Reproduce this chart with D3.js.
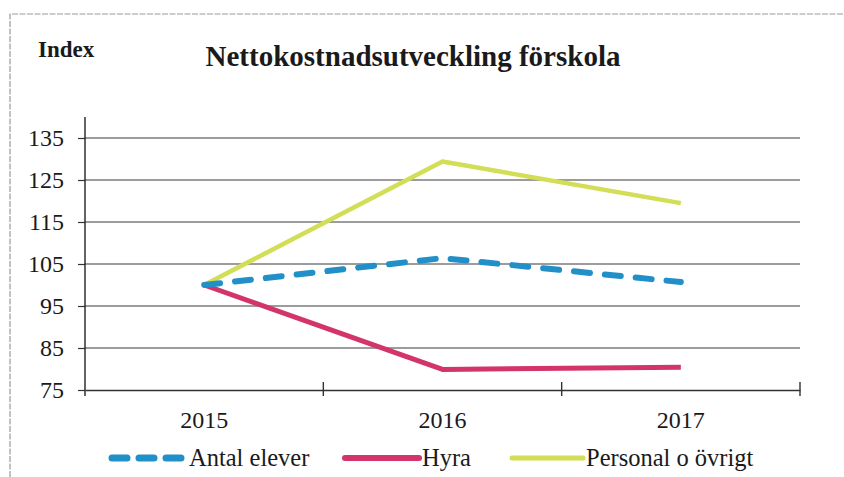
<!DOCTYPE html>
<html><head><meta charset="utf-8">
<script src="https://cdn.jsdelivr.net/npm/d3@7"></script>
<style>html,body{margin:0;padding:0;background:#fff;}svg{display:block;}
svg text{font-family:"Liberation Serif","Times New Roman",serif !important;}</style>
</head><body>
<svg id="c" width="844" height="477"></svg>
<script>
const years = ["2015", "2016", "2017"];
const antalElever = [100, 106.4, 100.7];
const hyra = [100, 79.9, 80.4];
const personal = [100, 129.4, 119.5];
const yTicks = [75, 85, 95, 105, 115, 125, 135];
const seriesNames = ["Antal elever", "Hyra", "Personal o övrigt"];
const titleText = "Nettokostnadsutveckling förskola";
const yLabel = "Index";

(function () {
const svg = d3.select("#c");
const pLeft = 85, pRight = 800, pTop = 117, pBottom = 390;

const x = d3.scaleBand().domain(years).range([pLeft, pRight]);
const y = d3.scaleLinear().domain([75, 140]).range([pBottom, pTop]);

svg.append("path").attr("d", `M10,477 V14 H844`).attr("fill", "none")
  .attr("stroke", "#9a9a9a").attr("stroke-width", 1.2).attr("stroke-dasharray", "6,1.5");

svg.append("g").selectAll("line").data(yTicks.filter(d => d > 75)).join("line")
  .attr("x1", pLeft).attr("x2", pRight).attr("y1", d => y(d)).attr("y2", d => y(d))
  .attr("stroke", "#3a3a3a").attr("stroke-width", 1.2);

const yAxis = svg.append("g").attr("transform", `translate(${pLeft},0)`)
  .call(d3.axisLeft(y).tickValues(yTicks).tickSize(7).tickPadding(14));
yAxis.select(".domain").remove();
yAxis.append("line").attr("x1", 0).attr("x2", 0).attr("y1", pTop).attr("y2", pBottom + 6)
  .attr("stroke", "#222").attr("stroke-width", 1.4);
yAxis.selectAll(".tick line").attr("stroke", "#333").attr("stroke-width", 1.2);
yAxis.selectAll(".tick text").style("font-size", "24px").attr("fill", "#1a1a1a");

const xAxis = svg.append("g").attr("transform", `translate(0,${pBottom})`)
  .call(d3.axisBottom(x).tickSize(0).tickPadding(21));
xAxis.select(".domain").attr("stroke", "#333").attr("stroke-width", 1.4);
xAxis.selectAll(".tick text").style("font-size", "24px").attr("fill", "#1a1a1a");
const bounds = years.map(d => x(d)).slice(1).concat([pRight]);
xAxis.append("g").selectAll("line").data(bounds).join("line")
  .attr("x1", d => d).attr("x2", d => d).attr("y1", -8).attr("y2", 6)
  .attr("stroke", "#333").attr("stroke-width", 1.4);

const cx = d => x(d) + x.bandwidth() / 2;
const line = d3.line().x((d, i) => cx(years[i])).y(d => y(d));

svg.append("path").datum(personal).attr("d", line).attr("fill", "none")
  .attr("stroke", "#d2de55").attr("stroke-width", 4.5).attr("stroke-linejoin", "round");
svg.append("path").datum(hyra).attr("d", line).attr("fill", "none")
  .attr("stroke", "#d4346c").attr("stroke-width", 5).attr("stroke-linejoin", "round");
svg.append("path").datum(antalElever).attr("d", line).attr("fill", "none")
  .attr("stroke", "#2290c8").attr("stroke-width", 6).attr("stroke-linecap", "round")
  .attr("stroke-dasharray", "16,15");

svg.append("text").attr("x", 413).attr("y", 66).attr("text-anchor", "middle")
  .style("font-weight", "bold").style("font-size", "29px")
  .attr("fill", "#1a1a1a").text(titleText);
svg.append("text").attr("x", 38).attr("y", 57)
  .style("font-weight", "bold").style("font-size", "23px")
  .attr("fill", "#1a1a1a").text(yLabel);

const lg = svg.append("g");
const ly = 458;
const legendItems = [
  {name: seriesNames[0], x0: 112, x1: 186, color: "#2290c8", w: 7, dash: "15,12"},
  {name: seriesNames[1], x0: 345, x1: 419, color: "#d4346c", w: 6, dash: null},
  {name: seriesNames[2], x0: 512, x1: 583, color: "#d2de55", w: 5, dash: null}
];
legendItems.forEach(it => {
  const l = lg.append("line").attr("x1", it.x0).attr("x2", it.x1).attr("y1", ly).attr("y2", ly)
    .attr("stroke", it.color).attr("stroke-width", it.w).attr("stroke-linecap", "round");
  if (it.dash) l.attr("stroke-dasharray", it.dash);
  lg.append("text").attr("x", it.x1 + 3).attr("y", ly + 8)
    .style("font-size", "24.5px").attr("fill", "#1a1a1a").text(it.name);
});
})();
</script>
</body></html>
